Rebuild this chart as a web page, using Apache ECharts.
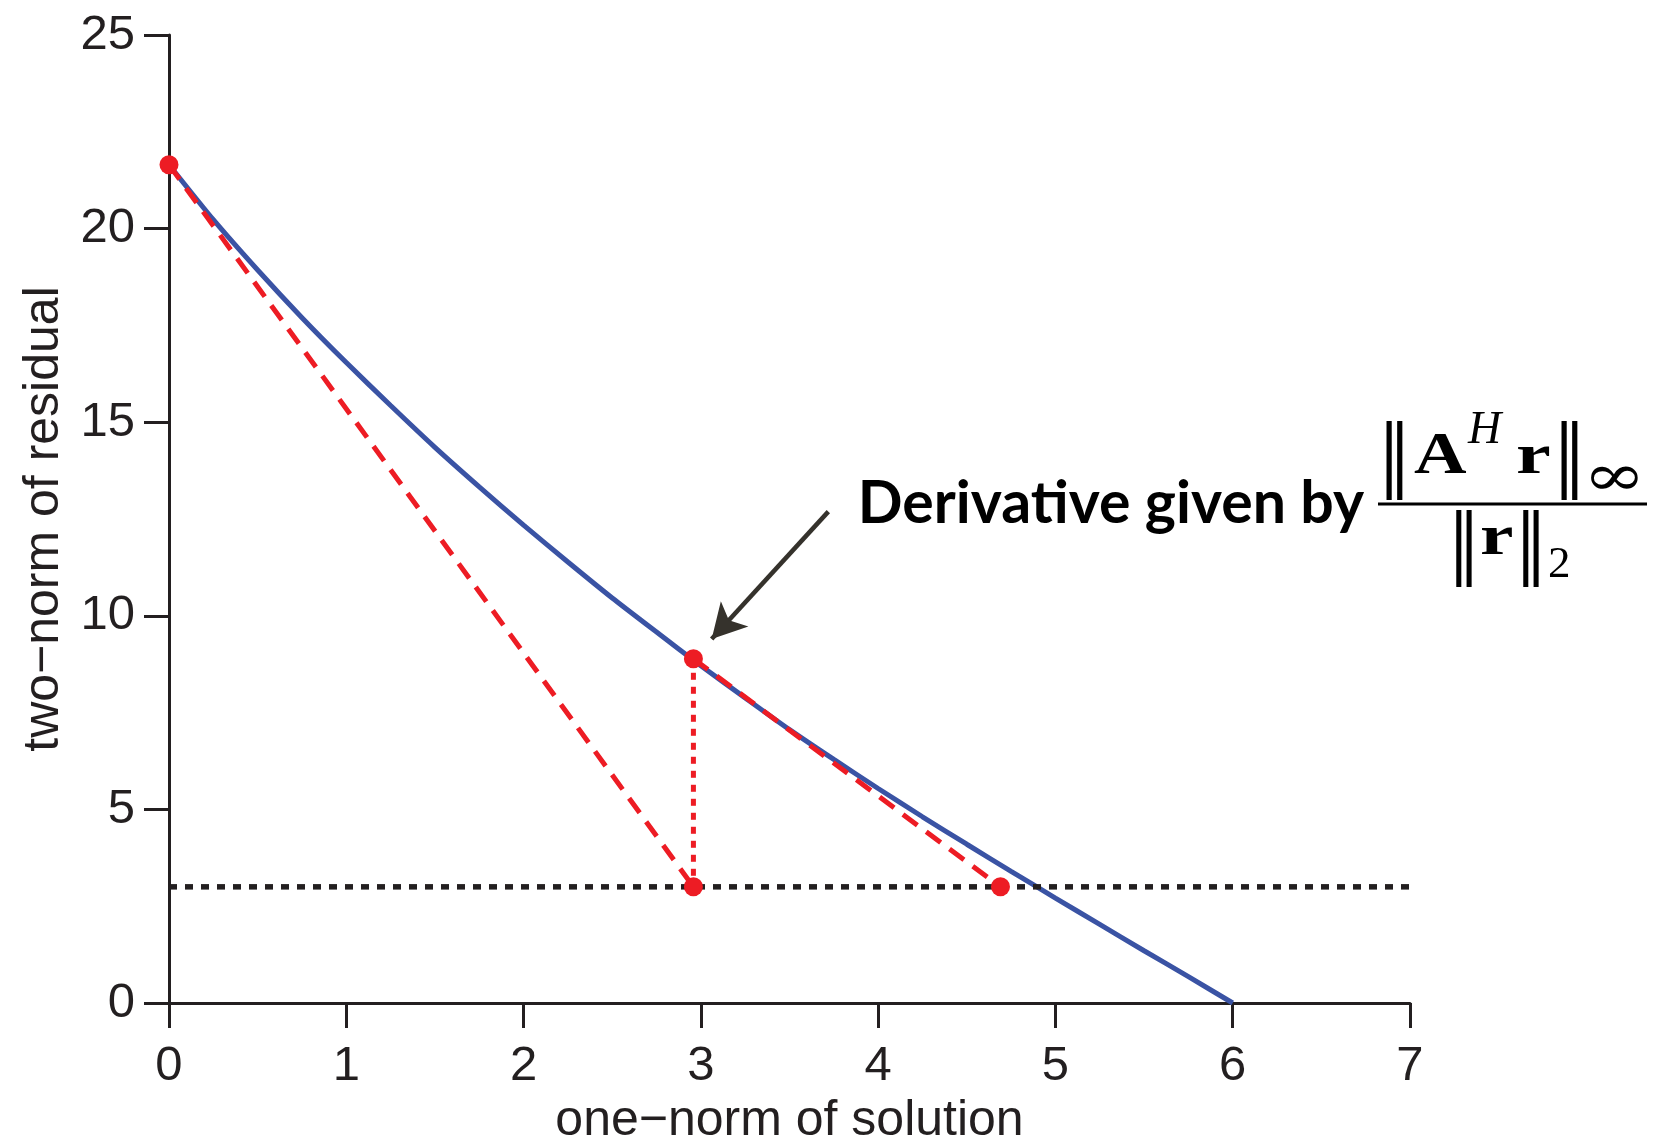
<!DOCTYPE html>
<html><head><meta charset="utf-8">
<script src="https://cdn.jsdelivr.net/npm/echarts@6/dist/echarts.min.js"></script>
<style>html,body{margin:0;padding:0;background:#fff;overflow:hidden}#c{width:1655px;height:1138px}</style>
</head><body><div id="c"></div>
<script>
// ---- data ----
const curveX = [0, 0.25, 0.5, 0.75, 1.0, 1.25, 1.5, 1.75, 2.0, 2.25, 2.5, 2.75, 3.0, 3.25, 3.5, 3.75, 4.0, 4.25, 4.5, 4.75, 5.0, 5.25, 5.5, 5.75, 6.0];
const curveY = [21.65, 20.23, 18.93, 17.70, 16.54, 15.43, 14.35, 13.33, 12.34, 11.39, 10.46, 9.58, 8.71, 7.88, 7.06, 6.29, 5.54, 4.81, 4.10, 3.40, 2.71, 2.03, 1.35, 0.68, 0];
const tangent1X = [0, 2.958];
const tangent1Y = [21.65, 3];
const dropX = [2.958, 2.958];
const dropY = [8.89, 3];
const tangent2X = [2.958, 4.69];
const tangent2Y = [8.89, 3];
const levelX = [0, 7];
const levelY = [3, 3];
const pointX = [0, 2.958, 2.958, 4.69];
const pointY = [21.65, 8.89, 3, 3];
const arrowFrom = [3.719, 12.69];
const arrowTo = [3.061, 9.40];
const xMin = 0, xMax = 7, xStep = 1;
const yMin = 0, yMax = 25, yStep = 5;
const xTitle = 'one\u2212norm of solution';
const yTitle = 'two\u2212norm of residual';
const annotation = 'Derivative given by';

// ---- build ----
const pairs = (xs, ys) => xs.map((x, i) => [x, ys[i]]);
const ink = '#231f20';
const red = '#ed1c24';
const blue = '#3a53a4';
const sans = "'Liberation Sans', Arial, Helvetica, sans-serif";
const serif = "'Liberation Serif', 'DejaVu Serif', serif";
const dserif = "'DejaVu Serif', 'Liberation Serif', serif";

function T(text, x, base, size, family, weight, style, align, sx, sy) {
  const font = (style || 'normal') + ' ' + (weight || 'normal') + ' ' + size + 'px ' + family;
  return {
    type: 'text', x: x, y: base - 0.3 * size, silent: true, z: 100,
    scaleX: sx || 1, scaleY: sy || 1,
    style: { text: text, fill: '#000', font: font,
      textAlign: align || 'left', align: align || 'left',
      textVerticalAlign: 'middle', verticalAlign: 'middle' }
  };
}

const chart = echarts.init(document.getElementById('c'), null, { renderer: 'canvas' });
const axisCommon = {
  type: 'value',
  axisLine: { show: true, onZero: false, lineStyle: { color: ink, width: 3 } },
  axisTick: { show: true, inside: false, length: 25, lineStyle: { color: ink, width: 3 } },
  splitLine: { show: false },
  nameLocation: 'middle',
  nameTextStyle: { fontFamily: sans, fontSize: 50, color: ink }
};
chart.setOption({
  animation: false,
  backgroundColor: '#ffffff',
  grid: { left: 169, right: 245, top: 35, bottom: 135, containLabel: false, outerBoundsMode: 'none' },
  xAxis: Object.assign({}, axisCommon, {
    min: xMin, max: xMax, interval: xStep,
    name: xTitle, nameGap: 83,
    axisLabel: { fontFamily: sans, fontSize: 49, color: ink, margin: 39 }
  }),
  yAxis: Object.assign({}, axisCommon, {
    min: yMin, max: yMax, interval: yStep,
    name: yTitle, nameGap: 93, nameRotate: 90,
    axisLabel: { fontFamily: sans, fontSize: 49, color: ink, margin: 34 }
  }),
  series: [
    { type: 'line', data: pairs(curveX, curveY), showSymbol: false, smooth: 0.2, z: 2,
      lineStyle: { color: blue, width: 5 }, silent: true },
    { type: 'line', data: pairs(tangent1X, tangent1Y), showSymbol: false, z: 3,
      lineStyle: { color: red, width: 5, type: [18, 11] }, silent: true },
    { type: 'line', data: pairs(tangent2X, tangent2Y), showSymbol: false, z: 3,
      lineStyle: { color: red, width: 5, type: [18, 11] }, silent: true },
    { type: 'line', data: pairs(dropX, dropY), showSymbol: false, z: 3,
      lineStyle: { color: red, width: 5, type: [7, 7] }, silent: true },
    { type: 'line', data: pairs(levelX, levelY), showSymbol: false, z: 4,
      lineStyle: { color: ink, width: 5.5, type: [8, 8] }, silent: true },
    { type: 'scatter', data: pairs(pointX, pointY), symbol: 'circle', symbolSize: 19, z: 6,
      itemStyle: { color: red, opacity: 1 }, silent: true,
      markLine: {
        silent: true, animation: false, symbol: ['none', 'arrow'], symbolSize: [28, 34],
        label: { show: false },
        lineStyle: { color: '#35322c', width: 4.5, type: 'solid', opacity: 1 },
        emphasis: { disabled: true },
        data: [[{ coord: arrowFrom }, { coord: arrowTo }]]
      } }
  ],
  graphic: [
    T(annotation, 1364, 522, 59, "Lato, 'Open Sans', sans-serif", 'bold', 'normal', 'right'),
    // numerator  ||A^H r||_inf
    T('\u2016', 1378, 480, 66, dserif, 'normal', 'normal', 'left', 1, 1.19),
    T('A', 1414, 475, 56, serif, 'bold', 'normal', 'left', 1.3, 1.05),
    T('H', 1468, 445, 46, serif, 'normal', 'italic'),
    T('r', 1516, 475, 58, serif, 'bold', 'normal', 'left', 1.35, 1),
    T('\u2016', 1553, 480, 66, dserif, 'normal', 'normal', 'left', 1, 1.19),
    T('\u221e', 1583, 497, 58, dserif, 'normal', 'normal', 'left', 1.3, 1),
    { type: 'line', silent: true, z: 100, shape: { x1: 1378, y1: 504, x2: 1647, y2: 504 },
      style: { stroke: '#000', lineWidth: 3 } },
    // denominator ||r||_2
    T('\u2016', 1448, 568, 64, dserif, 'normal', 'normal', 'left', 1, 1.2),
    T('r', 1480, 556, 58, serif, 'bold', 'normal', 'left', 1.3, 1),
    T('\u2016', 1515, 568, 64, dserif, 'normal', 'normal', 'left', 1, 1.2),
    T('2', 1548, 579, 45, serif)
  ]
});
</script>
</body></html>
